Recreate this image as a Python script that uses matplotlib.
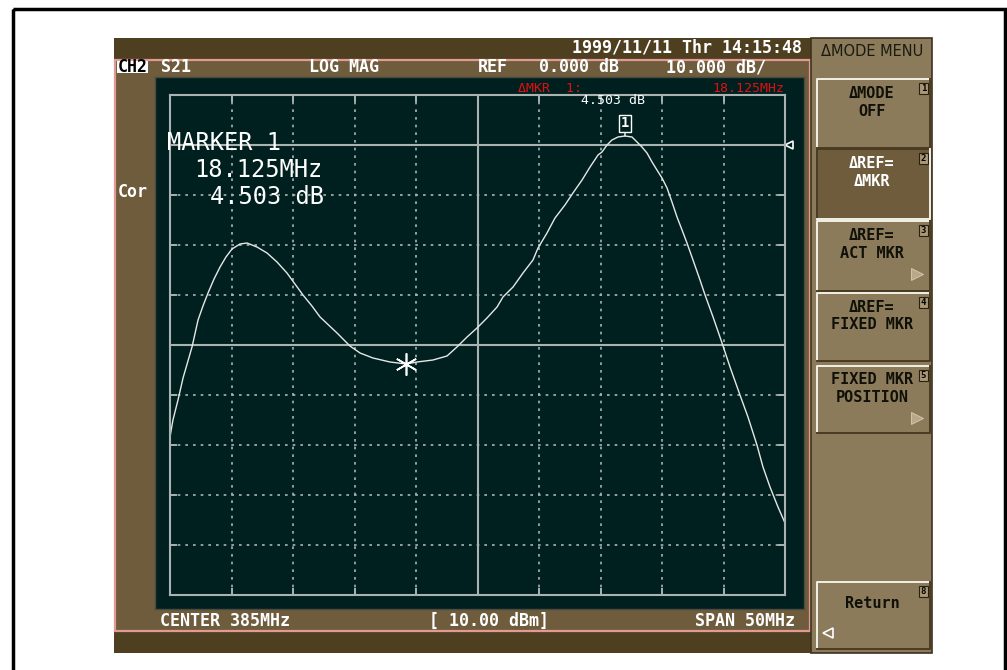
import numpy as np
import matplotlib
matplotlib.use("Agg")
import matplotlib.pyplot as plt
from matplotlib.patches import Rectangle

W, H = 1007, 670

# S21 trace (MHz, dB)
freq_mhz = [360.00, 360.24, 360.65, 361.06, 361.46, 361.79, 362.28, 362.68, 363.09,
            363.58, 364.07, 364.55, 365.04, 365.69, 366.26, 367.07, 367.89, 368.70,
            369.51, 370.16, 370.81, 371.54, 372.20, 373.58, 374.63, 375.45, 376.50,
            377.89, 379.19, 380.08, 381.38, 382.52, 383.33, 384.15, 384.96, 385.77,
            386.59, 387.07, 387.89, 388.70, 389.51, 389.92, 390.65, 391.30, 392.11,
            392.76, 393.50, 394.15, 394.80, 395.12, 395.53, 395.93, 396.42, 396.99,
            397.56, 397.97, 398.37, 398.78, 399.19, 399.59, 400.00, 400.41, 400.81,
            401.22, 401.63, 402.03, 402.52, 403.09, 403.50, 404.15, 404.88, 405.53,
            406.34, 406.99, 407.72, 408.21, 408.78, 409.43, 410.00]
mag_db = [-58.4, -55.0, -51.0, -46.6, -43.2, -40.4, -35.0, -32.2, -29.6,
          -26.8, -24.4, -22.4, -20.8, -19.8, -19.6, -20.4, -21.6, -23.4,
          -25.6, -27.8, -30.0, -32.2, -34.4, -37.6, -40.2, -41.6, -42.6,
          -43.4, -43.8, -43.4, -43.0, -42.2, -40.4, -38.4, -36.6, -34.6,
          -32.4, -30.4, -28.4, -25.6, -23.0, -20.6, -17.6, -14.6, -12.0,
          -9.6, -7.0, -4.4, -2.0, -1.4, 0.0, 1.0, 1.6, 1.8,
          1.6, 0.6, -0.4, -1.6, -3.4, -5.0, -6.6, -8.6, -11.4,
          -14.4, -17.0, -19.6, -23.0, -27.0, -30.0, -34.4, -39.6, -44.4,
          -50.0, -54.4, -60.0, -64.4, -68.4, -72.4, -75.6]

# sweep / scale settings
center_mhz = 385.0
span_mhz = 50.0
ref_db = 0.0
db_per_div = 10.0
ref_mkr_freq = 379.19   # delta reference marker (star)
mkr1_freq = 396.99      # marker 1

# screen annotations
header = ["S21", "LOG MAG", "REF", "0.000 dB", "10.000 dB/"]
header_x = [161, 309, 478, 539, 666]
date_str = "1999/11/11 Thr 14:15:48"
footer = ["CENTER 385MHz", "[ 10.00 dBm]", "SPAN 50MHz"]
marker_lines = ["MARKER 1", "18.125MHz", "4.503 dB"]
menu_labels = ["\u0394MODE\nOFF", "\u0394REF=\n\u0394MKR", "\u0394REF=\nACT MKR",
               "\u0394REF=\nFIXED MKR", "FIXED MKR\nPOSITION", "Return"]
menu_keys = ["1", "2", "3", "4", "5", "8"]

# colours
dark_bar = "#4f3f21"
panel = "#6e5c3c"
pink = "#e29a94"
screen = "#00201f"
menu_bg = "#8b7b5b"
grid_c = "#a9b3b1"
trace_c = "#e6e8e6"

fig = plt.figure(figsize=(W / 100, H / 100), dpi=100)
fig.patch.set_facecolor("white")

bg = fig.add_axes([0, 0, 1, 1])
bg.set_xlim(0, W)
bg.set_ylim(H, 0)
bg.axis("off")


def box(x0, y0, x1, y1, **kw):
    bg.add_patch(Rectangle((x0, y0), x1 - x0, y1 - y0, **kw))


def put(x, y, s, size=12, color="white", weight="bold",
        family="DejaVu Sans Mono", ha="left", **kw):
    fig.text(x / W, 1 - y / H, s, fontsize=size, color=color, fontweight=weight,
             family=family, ha=ha, va="center", **kw)


# outer frame
box(13, 9, 1005, 700, fill=False, ec="black", lw=2.5)

# instrument screen
box(114, 38, 811, 59, fc=dark_bar, ec="none")
box(114, 631, 811, 653, fc=dark_bar, ec="none")
box(115, 59.5, 810, 630.5, fc=panel, ec=pink, lw=1.6)
box(155, 77, 804, 609, fc=screen, ec="#4a4a40", lw=1)

# softkey menu
box(811, 38, 932, 653, fc=menu_bg, ec="#3e3220", lw=1.2)
put(872, 52, "\u0394MODE MENU", size=10.5, color="#1a1a10", weight="normal",
    family="DejaVu Sans", ha="center")

btn_y = [(79, 148), (149, 219), (221, 291), (293, 361), (366, 433), (582, 649)]
for i, (y0, y1) in enumerate(btn_y):
    sel = i == 1
    box(817, y0, 930, y1, fc=panel if sel else menu_bg, ec="none")
    lite, shade = ("#4a3c22", "#f2f0e6") if sel else ("#f2f0e6", "#4a3c22")
    bg.plot([817, 817, 930], [y1, y0, y0], color=lite, lw=1.4)
    bg.plot([817, 930, 930], [y1, y1, y0], color=shade, lw=1.4)
    box(919, y0 + 4, 928, y0 + 15, fc="#a89878", ec="#2a2010", lw=0.8)
    put(923.5, y0 + 9.5, menu_keys[i], size=6.5, color="black", ha="center")
    lines = menu_labels[i].split("\n")
    tc = "white" if sel else "#101008"
    if len(lines) == 1:
        put(872, (y0 + y1) / 2 - 12, lines[0], size=11, color=tc, ha="center")
    else:
        put(872, y0 + 14, lines[0], size=11, color=tc, ha="center")
        put(872, y0 + 32, lines[1], size=11, color=tc, ha="center")

for yy in [274, 418]:
    bg.plot(917, yy, marker=">", ms=8, color="#b9a98a", mec="#d8ccb0", mew=0.6)
bg.plot(828, 633, marker="<", ms=7, mfc=menu_bg, mec="white", mew=1.2)

# header / footer text
put(802, 47, date_str, ha="right")
box(117, 61, 148, 73, fc="white", ec="none")
put(132.5, 67, "CH2", color="black", ha="center")
for s, x in zip(header, header_x):
    put(x, 67, s)
put(118, 192, "Cor")
put(160, 621, footer[0])
put(429, 621, footer[1])
put(795, 621, footer[2], ha="right")

put(518, 88, "\u0394MKR  1:", size=9.5, color="#e01010", weight="normal")
put(784, 88, "18.125MHz", size=9.5, color="#e01010", weight="normal", ha="right")
put(581, 100, "4.503 dB", size=9.5, color="white", weight="normal")

# marker readout
put(167, 142.5, marker_lines[0], size=17, weight="normal")
put(194, 170, marker_lines[1], size=17, weight="normal")
put(210, 197.5, marker_lines[2], size=17, weight="normal")

# graticule
ax = fig.add_axes([170 / W, 1 - 595 / H, 615 / W, 500 / H])
ax.set_facecolor("none")
x_lo, x_hi = center_mhz - span_mhz / 2, center_mhz + span_mhz / 2
y_hi = ref_db + db_per_div
y_lo = y_hi - 10 * db_per_div
ax.set_xlim(x_lo, x_hi)
ax.set_ylim(y_lo, y_hi)
xdiv = np.linspace(x_lo, x_hi, 11)
ydiv = np.linspace(y_lo, y_hi, 11)
ax.set_xticks(xdiv)
ax.set_yticks(ydiv)
ax.tick_params(direction="in", length=5, width=1.4, color=grid_c,
               labelbottom=False, labelleft=False, top=True, right=True)
for sp in ax.spines.values():
    sp.set_color(grid_c)
    sp.set_linewidth(1.5)

solid_y = [ref_db, y_lo + 5 * db_per_div]
for xv in xdiv[1:-1]:
    if np.isclose(xv, center_mhz):
        ax.axvline(xv, color=grid_c, lw=1.5)
    else:
        ax.axvline(xv, color=grid_c, lw=1.2, ls=(0, (1.6, 3)))
for yv in ydiv[1:-1]:
    if any(np.isclose(yv, s) for s in solid_y):
        ax.axhline(yv, color=grid_c, lw=1.5)
    else:
        ax.axhline(yv, color=grid_c, lw=1.2, ls=(0, (1.6, 3)))

# reference level pointer
ax.plot(x_hi + 0.3, ref_db, marker="<", ms=6, mfc=screen, mec="white",
        mew=1.2, clip_on=False)

ax.plot(freq_mhz, mag_db, color=trace_c, lw=1.0)

# markers
ref_y = np.interp(ref_mkr_freq, freq_mhz, mag_db)
ax.plot(ref_mkr_freq, ref_y, marker=(6, 2, 0), ms=16, color="white", mew=1.2)
m1_y = np.interp(mkr1_freq, freq_mhz, mag_db)
ax.annotate("1", xy=(mkr1_freq, m1_y), xytext=(0, 4), textcoords="offset points",
            ha="center", va="bottom", fontsize=10, color="white",
            family="DejaVu Sans Mono", fontweight="bold",
            bbox=dict(boxstyle="square,pad=0.12", fc=screen, ec="white", lw=1),
            arrowprops=dict(arrowstyle="-", color="white", lw=1, shrinkA=0, shrinkB=0))

plt.savefig("out.png", dpi=100)
